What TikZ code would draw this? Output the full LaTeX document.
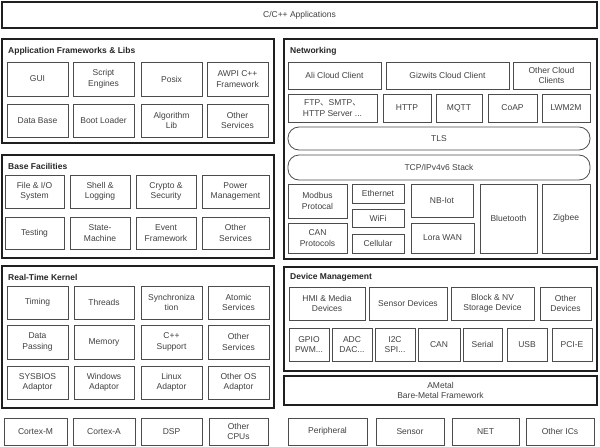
\documentclass[tikz,border=0pt]{standalone}
\usepackage{fontspec}
\setmainfont{Liberation Sans}
\newfontfamily\cjkfont{Noto Sans CJK SC}
\begin{document}
\begin{tikzpicture}[x=1pt,y=-1pt,
  inner/.style={draw=black!70,line width=0.8pt,align=center,inner sep=1pt,text=black!75,font=\fontsize{8.5}{10.5}\selectfont},
  outer/.style={draw=black!88,line width=1.6pt,inner sep=0pt},
  pill/.style={inner,rounded corners=11pt},
  title/.style={anchor=west,inner sep=0pt,text=black!85,font=\fontsize{8.5}{10}\selectfont\bfseries}]
\newcommand\bx[7][inner]{\node[#1,minimum width={(#5-#3)*1pt},minimum height={(#6-#4)*1pt}] (#2) at ({(#3+#5)/2},{(#4+#6)/2}) {#7};}
\useasboundingbox (0,0) rectangle (600,447);
% top
\bx[outer,align=center,text=black!75,font=\fontsize{8.5}{10}\selectfont]{app}{2}{2}{597}{28}{C/C++ Applications}
% Application frameworks
\bx[outer]{afl}{2}{39}{274}{143}{}
\node[title] (afltitle) at (8,51) {Application Frameworks \& Libs};
\bx{gui}{7}{62}{68}{96}{GUI}
\bx{script}{73}{62}{134}{96}{Script\\Engines}
\bx{posix}{141}{62}{202}{96}{Posix}
\bx{awpi}{207}{62}{268}{96}{AWPI C++\\Framework}
\bx{db}{7}{104}{68}{137}{Data Base}
\bx{boot}{73}{104}{134}{137}{Boot Loader}
\bx{algo}{141}{104}{202}{137}{Algorithm\\Lib}
\bx{aos}{207}{104}{268}{137}{Other\\Services}
% Base facilities
\bx[outer]{bf}{2}{155}{274}{258}{}
\node[title] (bftitle) at (8,166) {Base Facilities};
\bx{file}{5}{175}{64}{208}{File \& I/O\\System}
\bx{shell}{70}{175}{130}{208}{Shell \&\\Logging}
\bx{crypto}{136}{175}{196}{208}{Crypto \&\\Security}
\bx{power}{202}{175}{269}{208}{Power\\Management}
\bx{test}{5}{217}{64}{249}{Testing}
\bx{state}{70}{217}{130}{249}{State-\\Machine}
\bx{event}{136}{217}{196}{249}{Event\\Framework}
\bx{bos}{202}{217}{269}{249}{Other\\Services}
% Real-time kernel
\bx[outer]{rtk}{2}{266}{274}{408}{}
\node[title] (rtktitle) at (8,277) {Real-Time Kernel};
\bx{timing}{7}{286}{68}{319}{Timing}
\bx{threads}{74}{286}{134}{319}{Threads}
\bx{sync}{141}{286}{202}{319}{Synchroniza\\tion}
\bx{atomic}{208}{286}{269}{319}{Atomic\\Services}
\bx{data}{7}{325}{68}{359}{Data\\Passing}
\bx{memory}{74}{325}{134}{359}{Memory}
\bx{cpp}{141}{325}{202}{359}{C++\\Support}
\bx{ros}{208}{325}{269}{359}{Other\\Services}
\bx{sysbios}{7}{366}{68}{399}{SYSBIOS\\Adaptor}
\bx{win}{74}{366}{134}{399}{Windows\\Adaptor}
\bx{linux}{141}{366}{202}{399}{Linux\\Adaptor}
\bx{oos}{208}{366}{269}{399}{Other OS\\Adaptor}
% CPUs
\bx{cm}{4}{418}{67}{445}{Cortex-M}
\bx{ca}{73}{418}{135}{445}{Cortex-A}
\bx{dsp}{141}{418}{202}{445}{DSP}
\bx{ocpu}{209}{418}{268}{445}{Other\\CPUs}
% Networking
\bx[outer]{net}{284}{39}{597}{259}{}
\node[title] (nettitle) at (290,51) {Networking};
\bx{ali}{288}{62}{381}{89}{Ali Cloud Client}
\bx{giz}{386}{62}{509}{89}{Gizwits Cloud Client}
\bx{occ}{513}{62}{590}{89}{Other Cloud\\Clients}
\bx{ftp}{288}{94}{377}{122}{FTP{\cjkfont 、}SMTP{\cjkfont 、}\\HTTP Server ...}
\bx{http}{383}{94}{431}{122}{HTTP}
\bx{mqtt}{436}{94}{482}{122}{MQTT}
\bx{coap}{488}{94}{537}{122}{CoAP}
\bx{lwm}{542}{94}{590}{122}{LWM2M}
\bx[pill]{tls}{288}{127}{590}{150}{TLS}
\bx[pill]{tcp}{288}{155}{590}{180}{TCP/IPv4v6 Stack}
\bx{modbus}{288}{184}{347}{218}{Modbus\\Protocal}
\bx{canp}{288}{223}{347}{253}{CAN\\Protocols}
\bx{eth}{352}{184}{404}{203}{Ethernet}
\bx{wifi}{352}{209}{404}{227}{WiFi}
\bx{cell}{352}{234}{404}{253}{Cellular}
\bx{nb}{411}{184}{473}{217}{NB-Iot}
\bx{lora}{411}{223}{474}{253}{Lora WAN}
\bx{bt}{480}{184}{537}{253}{Bluetooth}
\bx{zig}{542}{184}{590}{253}{Zigbee}
% Device management
\bx[outer]{dm}{284}{267}{597}{371}{}
\node[title] (dmtitle) at (290,277) {Device Management};
\bx{hmi}{289}{287}{365}{320}{HMI \& Media\\Devices}
\bx{sensd}{369}{287}{447}{320}{Sensor Devices}
\bx{block}{451}{287}{534}{320}{Block \& NV\\Storage Device}
\bx{odev}{540}{287}{591}{320}{Other\\Devices}
\bx{gpio}{289}{328}{329}{361}{GPIO\\PWM...}
\bx{adc}{332}{328}{372}{361}{ADC\\DAC...}
\bx{i2c}{375}{328}{415}{361}{I2C\\SPI...}
\bx{can}{418}{328}{460}{361}{CAN}
\bx{serial}{463}{328}{502}{361}{Serial}
\bx{usb}{507}{328}{547}{361}{USB}
\bx{pcie}{552}{328}{592}{361}{PCI-E}
\bx[outer,align=center,text=black!75,font=\fontsize{8.5}{10.5}\selectfont]{ametal}{284}{376}{597}{405}{AMetal\\Bare-Metal Framework}
% ICs
\bx{periph}{288}{418}{367}{445}{Peripheral}
\bx{sensor}{376}{418}{444}{445}{Sensor}
\bx{netic}{452}{418}{519}{445}{NET}
\bx{oic}{526}{418}{594}{445}{Other ICs}
\end{tikzpicture}
\end{document}
